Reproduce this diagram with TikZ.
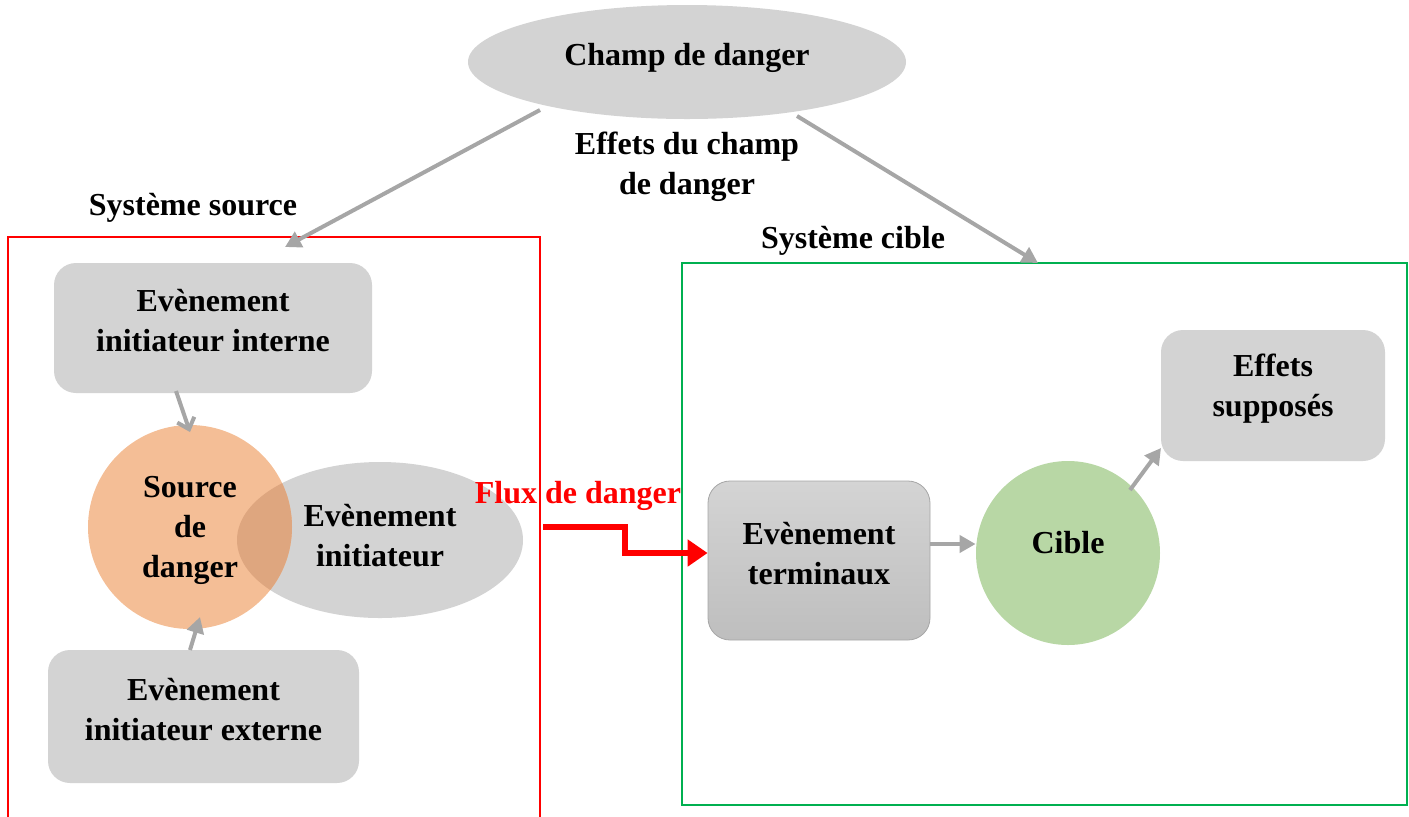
\documentclass[tikz,border=0pt]{standalone}
\usepackage{fontspec}
\setmainfont{Liberation Serif}
\usetikzlibrary{arrows.meta,shapes.geometric}
\definecolor{boxgray}{HTML}{D3D3D3}
\definecolor{arrowgray}{HTML}{A6A6A6}
\definecolor{srcorange}{HTML}{F4BE96}
\definecolor{overlapcol}{HTML}{DEA67F}
\definecolor{ciblegreen}{HTML}{B8D7A5}
\definecolor{cibleframe}{HTML}{00B050}
\definecolor{termtop}{HTML}{D4D4D4}
\definecolor{termbot}{HTML}{BEBEBE}
\begin{document}
\begin{tikzpicture}[x=0.5pt,y=-0.5pt,
  every node/.style={font=\bfseries\fontsize{16}{20}\selectfont, align=center, inner sep=0pt},
  graybox/.style={rectangle, rounded corners=11pt, fill=boxgray},
  grayarrow/.style={draw=arrowgray, line width=2pt, -{Triangle[length=8pt,width=8.5pt]}},
  barbarrow/.style={draw=arrowgray, line width=2pt, -{Straight Barb[length=5pt,width=9pt]}},
  redarrow/.style={draw=red, line width=3pt, -{Triangle[length=10pt,width=13pt]}},
  title/.style={text=black}]
\useasboundingbox (0,0) rectangle (1409,816);

% system frames
\draw[red, line width=1pt] (8,237) rectangle (540,840);
\draw[cibleframe, line width=0.8pt] (682,263) rectangle (1407,805);
\node[title] (srclab) at (193,208) {Système source};
\node[title] (ciblab) at (853,241) {Système cible};

% danger field
\node[ellipse, fill=boxgray, minimum width=219pt, minimum height=57pt] (champ) at (687,62) {};
\node (champtxt) at (687,58) {Champ de danger};
\node (effetstxt) at (687,167) {Effets du champ\\de danger};
\coordinate (cl) at (540,110);
\coordinate (cr) at (797,116);
\coordinate (srcend) at (285,247);
\coordinate (cibend) at (1038,263);
\draw[grayarrow] (cl) -- (srcend);
\draw[grayarrow] (cr) -- (cibend);

% source system
\node[graybox, minimum width=159pt, minimum height=65pt] (interne) at (213,328) {};
\node (internetxt) at ([yshift=3.5pt]interne.center) {Evènement\\initiateur interne};
\node[graybox, minimum width=155.5pt, minimum height=66.5pt] (externe) at (203.5,716.5) {};
\node (externetxt) at ([yshift=3.5pt]externe.center) {Evènement\\initiateur externe};

\node[ellipse, fill=boxgray, minimum width=143pt, minimum height=78pt] (init) at (380,540) {};
\node[circle, fill=srcorange, minimum size=102pt] (source) at (190,527) {};
\begin{scope}
  \clip (190,527) circle [radius=51pt];
  \fill[overlapcol] (380,540) ellipse [x radius=71.5pt, y radius=39pt];
\end{scope}
\node (sourcetxt) at (190,530) {Source\\de\\danger};
\node (inittxt) at (380,536) {Evènement\\initiateur};

\coordinate (intstart) at (176,391);
\coordinate (intend) at (190,432);
\draw[barbarrow] (intstart) -- (intend);
\coordinate (extstart) at (190,650);
\coordinate (extend) at (200,617);
\draw[grayarrow] (extstart) -- (extend);

% danger flow
\node[text=red] (fluxtxt) at (578,496) {Flux de danger};
\node[rectangle, rounded corners=11pt, draw=arrowgray, line width=0.4pt,
      top color=termtop, bottom color=termbot,
      minimum width=111pt, minimum height=79.5pt] (term) at (819,560.5) {};
\node (termtxt) at ([yshift=3.5pt]term.center) {Evènement\\terminaux};
\coordinate (fluxstart) at (543,527);
\draw[redarrow] (fluxstart) -- (625,527) -- (625,553) -- (term.west |- 0,553);

% target system
\node[circle, fill=ciblegreen, minimum size=92pt] (cible) at (1068,553) {};
\node (cibletxt) at (1068,543) {Cible};
\node[graybox, minimum width=112pt, minimum height=65.5pt] (effets) at (1273,395.5) {};
\node (effetssupp) at ([yshift=3.5pt]effets.center) {Effets\\supposés};

\draw[grayarrow] (term.east |- 0,544) -- (cible.west |- 0,544);
\coordinate (cibout) at (1130,490);
\coordinate (effin) at (1161,448);
\draw[grayarrow] (cibout) -- (effin);
\end{tikzpicture}
\end{document}
